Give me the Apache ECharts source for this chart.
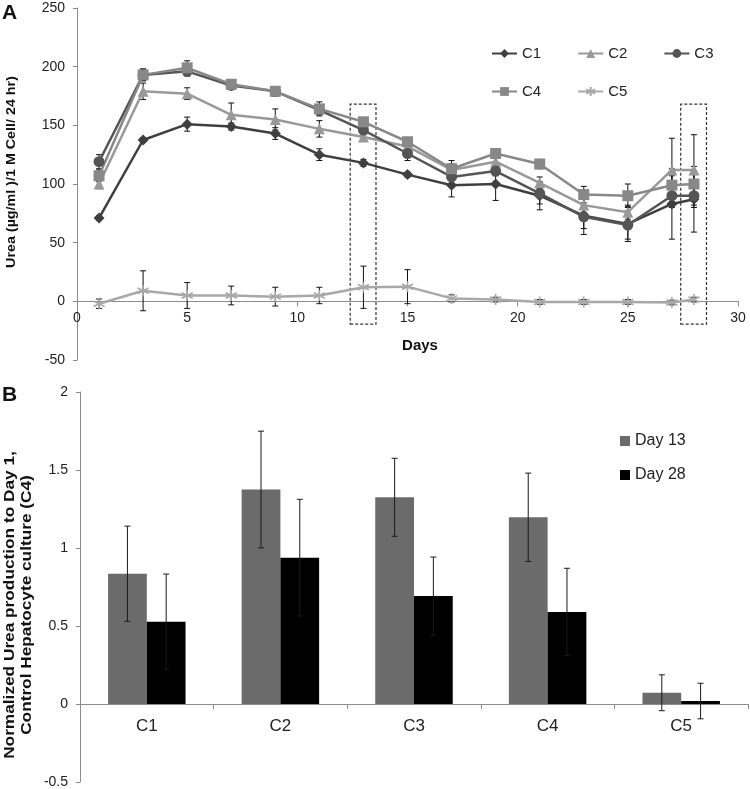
<!DOCTYPE html>
<html><head><meta charset="utf-8">
<script src="https://cdn.jsdelivr.net/npm/echarts@6/dist/echarts.min.js"></script>
<style>html,body{margin:0;padding:0;background:#fff}#c{width:750px;height:789px}</style>
</head><body><div id="c"></div>
<script>
// ---- Panel A data ----
const days = [1,3,5,7,9,11,13,15,17,19,21,23,25,27,28];
const c1 = [71,137.5,151,149,143,125,118,108,99,100,90,73,66,83,87];
const c1Err = [2,2,6,3,5,5,3,2,10,14,12,16,15,30,28];
const c2 = [100,179,177,159,155,147,140,132,112,119,101,82,76,112,112];
const c2Err = [4,7,5,10,9,7,3,3,5,4,5,6,6,27,30];
const c3 = [119,193,196,184,179,163,146,126,106,111,92,72,65,90,90];
const c3Err = [6,5,4,3,4,4,4,6,6,4,9,10,12,10,10];
const c4 = [107,193,199,185,179,164,153,136,113,126,117,91,90,99,100];
const c4Err = [5,5,6,3,4,6,3,3,7,4,4,7,10,8,8];
const c5 = [-2,9,5,5,4,5,12,12.5,2.5,1.5,-0.5,-0.5,-0.5,-1,1.5];
const c5Err = [4,17,11,8,8,7,18,14.5,3,2,2,2,2,2,2];
const highlightDays = [13, 28];
const highlightRange = [-19.5, 168];
const xTicks = {min:0, max:30, interval:5};
const yTicksA = {min:-50, max:250, interval:50};

// ---- Panel B data ----
const cats = ['C1','C2','C3','C4','C5'];
const day13 = [0.835,1.375,1.325,1.197,0.072];
const day13Err = [0.305,0.374,0.25,0.283,0.115];
const day28 = [0.528,0.938,0.692,0.59,0.019];
const day28Err = [0.305,0.374,0.25,0.28,0.114];
const yTicksB = {min:-0.5, max:2, interval:0.5};

const FONT = "'Liberation Sans', Arial, sans-serif";
const AX = '#8c8c8c';
const TXT = '#222';

// plot areas
const gA = {left:77, top:8, width:661, height:352};
const gB = {left:80, top:392, width:668, height:390};
// pixel height above the zero line (where the x axes cross y = 0)
const zeroA = gA.height * (yTicksA.max - 0) / (yTicksA.max - yTicksA.min);
const zeroB = gB.height * (yTicksB.max - 0) / (yTicksB.max - yTicksB.min);

const lineDefs = [
  {name:'C1', vals:c1, err:c1Err, color:'#3f3f3f', symbol:'diamond', size:11},
  {name:'C2', vals:c2, err:c2Err, color:'#999999', symbol:'triangle', size:11},
  {name:'C3', vals:c3, err:c3Err, color:'#555555', symbol:'circle', size:11},
  {name:'C4', vals:c4, err:c4Err, color:'#888888', symbol:'rect', size:11},
  {name:'C5', vals:c5, err:c5Err, color:'#a8a8a8', symbol:'path://M0,-5L0,5M-4.3,-2.5L4.3,2.5M-4.3,2.5L4.3,-2.5', size:11}
];

function errRenderA(params, api){
  const x = api.value(0), v = api.value(1), e = api.value(2);
  const hi = api.coord([x, v+e]), lo = api.coord([x, v-e]);
  const st = {stroke:'#111', lineWidth:1};
  return {type:'group', children:[
    {type:'line', shape:{x1:hi[0],y1:hi[1],x2:lo[0],y2:lo[1]}, style:st},
    {type:'line', shape:{x1:hi[0]-3,y1:hi[1],x2:hi[0]+3,y2:hi[1]}, style:st},
    {type:'line', shape:{x1:lo[0]-3,y1:lo[1],x2:lo[0]+3,y2:lo[1]}, style:st}
  ]};
}
function errRenderB(sign){
  return function(params, api){
    const i = api.value(0), v = api.value(1), e = api.value(2);
    const band = api.size([1,0])[0];
    const off = sign*band*0.145;
    const hi = api.coord([i, v+e]), lo = api.coord([i, v-e]);
    const x = hi[0]+off;
    const st = {stroke:'#1a1a1a', lineWidth:1};
    return {type:'group', children:[
      {type:'line', shape:{x1:x,y1:hi[1],x2:x,y2:lo[1]}, style:st},
      {type:'line', shape:{x1:x-3,y1:hi[1],x2:x+3,y2:hi[1]}, style:st},
      {type:'line', shape:{x1:x-3,y1:lo[1],x2:x+3,y2:lo[1]}, style:st}
    ]};
  };
}

const series = [];
lineDefs.forEach(d => {
  series.push({
    type:'custom', xAxisIndex:0, yAxisIndex:0, z:1, silent:true,
    renderItem: errRenderA,
    encode:{x:0, y:1},
    data: days.map((dd,i)=>[dd, d.vals[i], d.err[i]])
  });
});
lineDefs.forEach(d => {
  const s = {
    type:'line', name:d.name, xAxisIndex:0, yAxisIndex:0, z:3,
    data: days.map((dd,i)=>[dd, d.vals[i]]),
    symbol:d.symbol, symbolSize:d.size, showAllSymbol:true,
    lineStyle:{color:d.color, width:2.5},
    itemStyle:{color:d.color, borderColor:d.color, borderWidth: d.name==='C5'?1.6:0},
    emphasis:{disabled:true}, animation:false
  };
  if (d.name === 'C5') {
    s.markArea = {
      silent:true,
      itemStyle:{color:'rgba(0,0,0,0)', borderColor:'#333', borderWidth:1.2, borderType:[3,2]},
      data: highlightDays.map(h => [{coord:[h-0.6, highlightRange[0]]}, {coord:[h+0.57, highlightRange[1]]}])
    };
  }
  series.push(s);
});

series.push({
  type:'bar', name:'Day 13', xAxisIndex:1, yAxisIndex:1, data:day13,
  itemStyle:{color:'#6b6b6b'}, barGap:'0%', barCategoryGap:'42%', animation:false
});
series.push({
  type:'bar', name:'Day 28', xAxisIndex:1, yAxisIndex:1, data:day28,
  itemStyle:{color:'#000000'}, animation:false
});
series.push({
  type:'custom', xAxisIndex:1, yAxisIndex:1, z:5, silent:true,
  renderItem: errRenderB(-1), encode:{x:0,y:1},
  data: cats.map((c,i)=>[i, day13[i], day13Err[i]])
});
series.push({
  type:'custom', xAxisIndex:1, yAxisIndex:1, z:5, silent:true,
  renderItem: errRenderB(1), encode:{x:0,y:1},
  data: cats.map((c,i)=>[i, day28[i], day28Err[i]])
});

const legendText = {fontFamily:FONT, fontSize:15, color:TXT};
const hiddenX = {show:false, axisLine:{show:false}, axisTick:{show:false}, axisLabel:{show:false}, splitLine:{show:false}};
const hiddenY = {type:'value', show:false, min:0, max:1, splitLine:{show:false}};
const option = {
  animation:false,
  textStyle:{fontFamily:FONT},
  grid:[
    gA,
    gB,
    {left:gA.left, top:gA.top, width:gA.width, height:zeroA},
    {left:gB.left, top:gB.top, width:gB.width, height:zeroB}
  ],
  xAxis:[
    Object.assign({type:'value', gridIndex:0, min:xTicks.min, max:xTicks.max, interval:xTicks.interval}, hiddenX),
    Object.assign({type:'category', gridIndex:1, data:cats}, hiddenX),
    {type:'value', gridIndex:2, min:xTicks.min, max:xTicks.max, interval:xTicks.interval,
     axisLine:{show:true, onZero:false, lineStyle:{color:AX}}, axisTick:{show:true, length:5, lineStyle:{color:AX}},
     splitLine:{show:false}, axisLabel:{color:TXT, fontSize:14, margin:10, fontFamily:FONT}},
    {type:'category', gridIndex:3, data:cats,
     axisLine:{show:true, onZero:false, lineStyle:{color:AX}}, axisTick:{show:true, length:5, lineStyle:{color:AX}},
     axisLabel:{color:TXT, fontSize:17, margin:14, fontFamily:FONT}}
  ],
  yAxis:[
    {type:'value', gridIndex:0, min:yTicksA.min, max:yTicksA.max, interval:yTicksA.interval,
     axisLine:{show:true, onZero:false, lineStyle:{color:AX}}, axisTick:{show:true, length:4, lineStyle:{color:AX}},
     splitLine:{show:false}, axisLabel:{color:TXT, fontSize:14, margin:12, fontFamily:FONT}},
    {type:'value', gridIndex:1, min:yTicksB.min, max:yTicksB.max, interval:yTicksB.interval,
     axisLine:{show:true, onZero:false, lineStyle:{color:AX}}, axisTick:{show:true, length:4, lineStyle:{color:AX}},
     splitLine:{show:false}, axisLabel:{color:TXT, fontSize:14, margin:12, fontFamily:FONT}},
    Object.assign({gridIndex:2}, hiddenY),
    Object.assign({gridIndex:3}, hiddenY)
  ],
  legend:[
    {data:['C1','C2','C3'], left:491, top:46, padding:0, itemWidth:25, itemHeight:11, itemGap:36,
     textStyle:legendText, selectedMode:false},
    {data:['C4','C5'], left:491, top:84, padding:0, itemWidth:25, itemHeight:11, itemGap:36,
     textStyle:legendText, selectedMode:false},
    {data:['Day 13','Day 28'], orient:'vertical', left:620, top:433, padding:0, itemWidth:10, itemHeight:10, itemGap:18,
     icon:'rect', textStyle:{fontFamily:FONT, fontSize:16, color:TXT}, selectedMode:false}
  ],
  graphic:[
    {type:'text', left:2, top:3, style:{text:'A', font:'bold 21px '+FONT, fill:'#111'}},
    {type:'text', left:2, top:385, style:{text:'B', font:'bold 21px '+FONT, fill:'#111'}},
    {type:'text', x:420, y:346, style:{text:'Days', font:'bold 15px '+FONT, fill:'#111', align:'center', verticalAlign:'middle'}},
    {type:'text', x:11, y:172, rotation:Math.PI/2, scaleX:1.1,
     style:{text:'Urea (µg/ml )/1 M Cell/ 24 hr)', font:'bold 13px '+FONT, fill:'#111', align:'center', verticalAlign:'middle'}},
    {type:'text', x:18, y:605, rotation:Math.PI/2, scaleX:1.15,
     style:{text:'Normalized Urea production to Day 1,\nControl Hepatocyte culture (C4)', font:'bold 15px '+FONT, fill:'#111', align:'center', verticalAlign:'middle', lineHeight:17}}
  ],
  series: series
};
const chart = echarts.init(document.getElementById('c'), null, {renderer:'canvas'});
chart.setOption(option);
</script>
</body></html>
